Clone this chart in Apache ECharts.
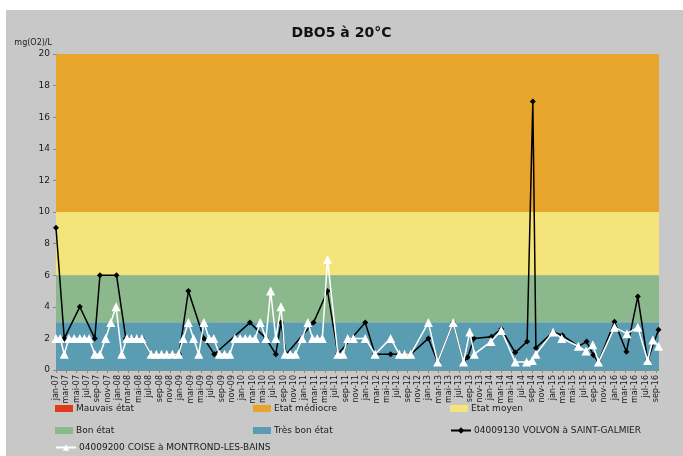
<!DOCTYPE html>
<html>
<head>
<meta charset="utf-8">
<script src="https://cdn.jsdelivr.net/npm/echarts@6/dist/echarts.min.js"></script>
<style>
  html, body { margin: 0; padding: 0; background: #ffffff; }
  #chart { width: 683px; height: 456px; }
</style>
</head>
<body>
<div id="chart"></div>
<script>
// Month labels of the date axis (x = months elapsed since January 2007)
const monthNames = ['jan', 'fév', 'mar', 'avr', 'mai', 'juin', 'jul', 'aoû', 'sep', 'oct', 'nov', 'déc'];
const firstYear = 2007;
const lastMonth = 116;            // sep-16
const xTickLabels = [];
for (let m = 0; m <= lastMonth; m += 2) {
  const yy = String((firstYear + Math.floor(m / 12)) % 100).padStart(2, '0');
  xTickLabels.push(monthNames[m % 12] + '-' + yy);
}

// Y scale
const yMin = 0, yMax = 20, yStep = 2;

// Quality classes for DBO5 (mg O2/L)
const bandNames  = ['Mauvais état', 'Etat médiocre', 'Etat moyen', 'Bon état', 'Très bon état'];
const bandLow    = [25, 10, 6, 3, 0];
const bandHigh   = [Infinity, 25, 10, 6, 3];
const bandColors = ['#e23b1c', '#e8a52c', '#f5e47a', '#8cb88d', '#5a9db3'];

// Station 04009130 – VOLVON à SAINT-GALMIER : [month, mg/L]
const volvonName = '04009130 VOLVON à SAINT-GALMIER';
const volvon = [
  [0, 9], [1.6, 2], [4.6, 4], [7.5, 2], [8.5, 6], [11.7, 6], [13.5, 2],
  [14.6, 2], [15.6, 2], [16.6, 2], [18.4, 1], [19.4, 1], [20.4, 1], [21.4, 1],
  [22.5, 1], [23.8, 1], [25.6, 5], [28.6, 2], [30.6, 1], [37.5, 3], [40.6, 2],
  [42.5, 1], [43.5, 3], [44.5, 1], [49.8, 3], [52.5, 5], [54.5, 1], [59.8, 3],
  [61.7, 1], [64.7, 1], [66.4, 1], [67.4, 1], [68.6, 1], [72, 2], [73.8, 0.5],
  [76.8, 3], [78.8, 0.5], [79.6, 0.8], [80.8, 2], [84.2, 2.1], [86.1, 2.6],
  [88.8, 1.1], [91.1, 1.8], [92.2, 17], [92.8, 1.4], [96.1, 2.4], [97.9, 2.2],
  [101, 1.5], [102.6, 1.8], [103.9, 0.95], [104.9, 0.5], [108, 3.05],
  [110.3, 1.15], [112.5, 4.65], [114.4, 0.6], [116.5, 2.55]
];

// Station 04009200 – COISE à MONTROND-LES-BAINS : [month, mg/L]
const coiseName = '04009200 COISE à MONTROND-LES-BAINS';
const coise = [
  [0, 2], [0.8, 2], [1.6, 1], [2.5, 2], [3.5, 2], [4.6, 2], [5.5, 2], [6.4, 2],
  [7.5, 1], [8.5, 1], [9.6, 2], [10.6, 3], [11.6, 4], [12.7, 1], [13.7, 2],
  [14.6, 2], [15.6, 2], [16.6, 2], [18.4, 1], [19.4, 1], [20.4, 1], [21.4, 1],
  [22.5, 1], [23.7, 1], [24.6, 2], [25.6, 3], [26.6, 2], [27.6, 1], [28.6, 3],
  [29.6, 2], [30.5, 2], [31.6, 1], [32.6, 1], [33.6, 1], [34.6, 2], [35.6, 2],
  [36.6, 2], [37.5, 2], [38.5, 2], [39.5, 3], [40.6, 2], [41.5, 5], [42.5, 2],
  [43.5, 4], [44.3, 1], [45.3, 1], [46.3, 1], [47.6, 2], [48.7, 3], [49.6, 2],
  [50.5, 2], [51.5, 2], [52.5, 7], [54.5, 1], [55.5, 1], [56.4, 2], [57.5, 2],
  [59.8, 2], [61.7, 1], [64.7, 2], [66.4, 1], [67.4, 1], [68.6, 1], [72, 3],
  [73.8, 0.5], [76.8, 3], [78.8, 0.5], [80, 2.4], [80.9, 1], [84.1, 1.8],
  [86.1, 2.5], [88.8, 0.5], [91, 0.5], [92.1, 0.6], [92.8, 1], [96.1, 2.4],
  [97.8, 2], [101, 1.5], [102.5, 1.2], [103.8, 1.6], [104.9, 0.5], [108, 2.7],
  [110.4, 2.3], [112.5, 2.7], [114.4, 0.6], [115.4, 1.9], [116.5, 1.5]
];

const FONT = 'DejaVu Sans';
const TEXT = '#1a1a1a';

const chart = echarts.init(document.getElementById('chart'), null, { renderer: 'canvas' });

// Coloured class bands as mark areas; each band is its own series so it gets a legend entry
const bandSeries = bandNames.map((name, i) => {
  const lo = Math.max(bandLow[i], yMin);
  const hi = Math.min(bandHigh[i], yMax);
  return {
    name: name,
    type: 'line',
    data: [],
    color: bandColors[i],
    z: 1,
    silent: true,
    markArea: {
      silent: true,
      itemStyle: { color: bandColors[i], opacity: 1 },
      data: hi > lo ? [[{ yAxis: lo }, { yAxis: hi }]] : []
    }
  };
});

// Legend cells laid out in three columns
const legendCol = [55, 253, 450];
const legendRow = [404, 426, 443];
const legendCells = [
  { name: bandNames[0], c: 0, r: 0, rect: true },
  { name: bandNames[1], c: 1, r: 0, rect: true },
  { name: bandNames[2], c: 2, r: 0, rect: true },
  { name: bandNames[3], c: 0, r: 1, rect: true },
  { name: bandNames[4], c: 1, r: 1, rect: true },
  { name: volvonName,   c: 2, r: 1, rect: false },
  { name: coiseName,    c: 0, r: 2, rect: false }
];
const legends = legendCells.map(cell => ({
  data: [cell.name],
  left: legendCol[cell.c],
  top: legendRow[cell.r],
  padding: 0,
  itemGap: 0,
  icon: cell.rect ? 'rect' : undefined,
  itemWidth: cell.rect ? 18 : 20,
  itemHeight: cell.rect ? 7 : 8,
  textStyle: { fontFamily: FONT, fontSize: 9, color: TEXT, padding: [0, 0, 0, -2] },
  selectedMode: false
}));

const option = {
  backgroundColor: '#ffffff',
  animation: false,
  graphic: {
    elements: [{
      type: 'rect',
      left: 6, top: 10,
      shape: { width: 677, height: 446 },
      style: { fill: '#c8c8c8' },
      z: -100,
      silent: true
    }]
  },
  title: {
    text: 'DBO5 à 20°C',
    left: 'center',
    top: 21,
    textStyle: { fontFamily: FONT, fontSize: 14, fontWeight: 'bold', color: '#111' }
  },
  legend: legends,
  grid: { left: 56, right: 24, top: 54, bottom: 86, containLabel: false },
  xAxis: {
    type: 'value',
    min: 0,
    max: lastMonth + 0.6,
    interval: 2,
    splitLine: { show: false },
    axisLine: { show: true, lineStyle: { color: '#8a8a8a', width: 1 } },
    axisTick: { show: true, length: 3, lineStyle: { color: '#8a8a8a' } },
    axisLabel: {
      rotate: 90,
      margin: 5,
      fontFamily: FONT,
      fontSize: 8,
      color: TEXT,
      showMaxLabel: false,
      formatter: v => (Number.isInteger(v) && v % 2 === 0 && v / 2 < xTickLabels.length) ? xTickLabels[v / 2] : ''
    }
  },
  yAxis: {
    type: 'value',
    min: yMin,
    max: yMax,
    interval: yStep,
    name: 'mg(O2)/L',
    nameLocation: 'end',
    nameGap: 7,
    nameTextStyle: { fontFamily: FONT, fontSize: 8, color: TEXT, align: 'right', padding: [0, 4, 0, 0] },
    splitLine: { show: false },
    axisLine: { show: true, lineStyle: { color: '#8a8a8a', width: 1 } },
    axisTick: { show: true, length: 3, lineStyle: { color: '#8a8a8a' } },
    axisLabel: { fontFamily: FONT, fontSize: 9, color: TEXT, margin: 6 }
  },
  series: bandSeries.concat([
    {
      name: volvonName,
      type: 'line',
      data: volvon,
      z: 3,
      color: '#000000',
      symbol: 'diamond',
      symbolSize: 6,
      showAllSymbol: true,
      lineStyle: { color: '#000000', width: 1.5 },
      itemStyle: { color: '#000000' }
    },
    {
      name: coiseName,
      type: 'line',
      data: coise,
      z: 4,
      color: '#ffffff',
      symbol: 'triangle',
      symbolSize: 9,
      showAllSymbol: true,
      lineStyle: { color: '#ffffff', width: 1.5 },
      itemStyle: { color: '#ffffff' }
    }
  ])
};

chart.setOption(option);
</script>
</body>
</html>
